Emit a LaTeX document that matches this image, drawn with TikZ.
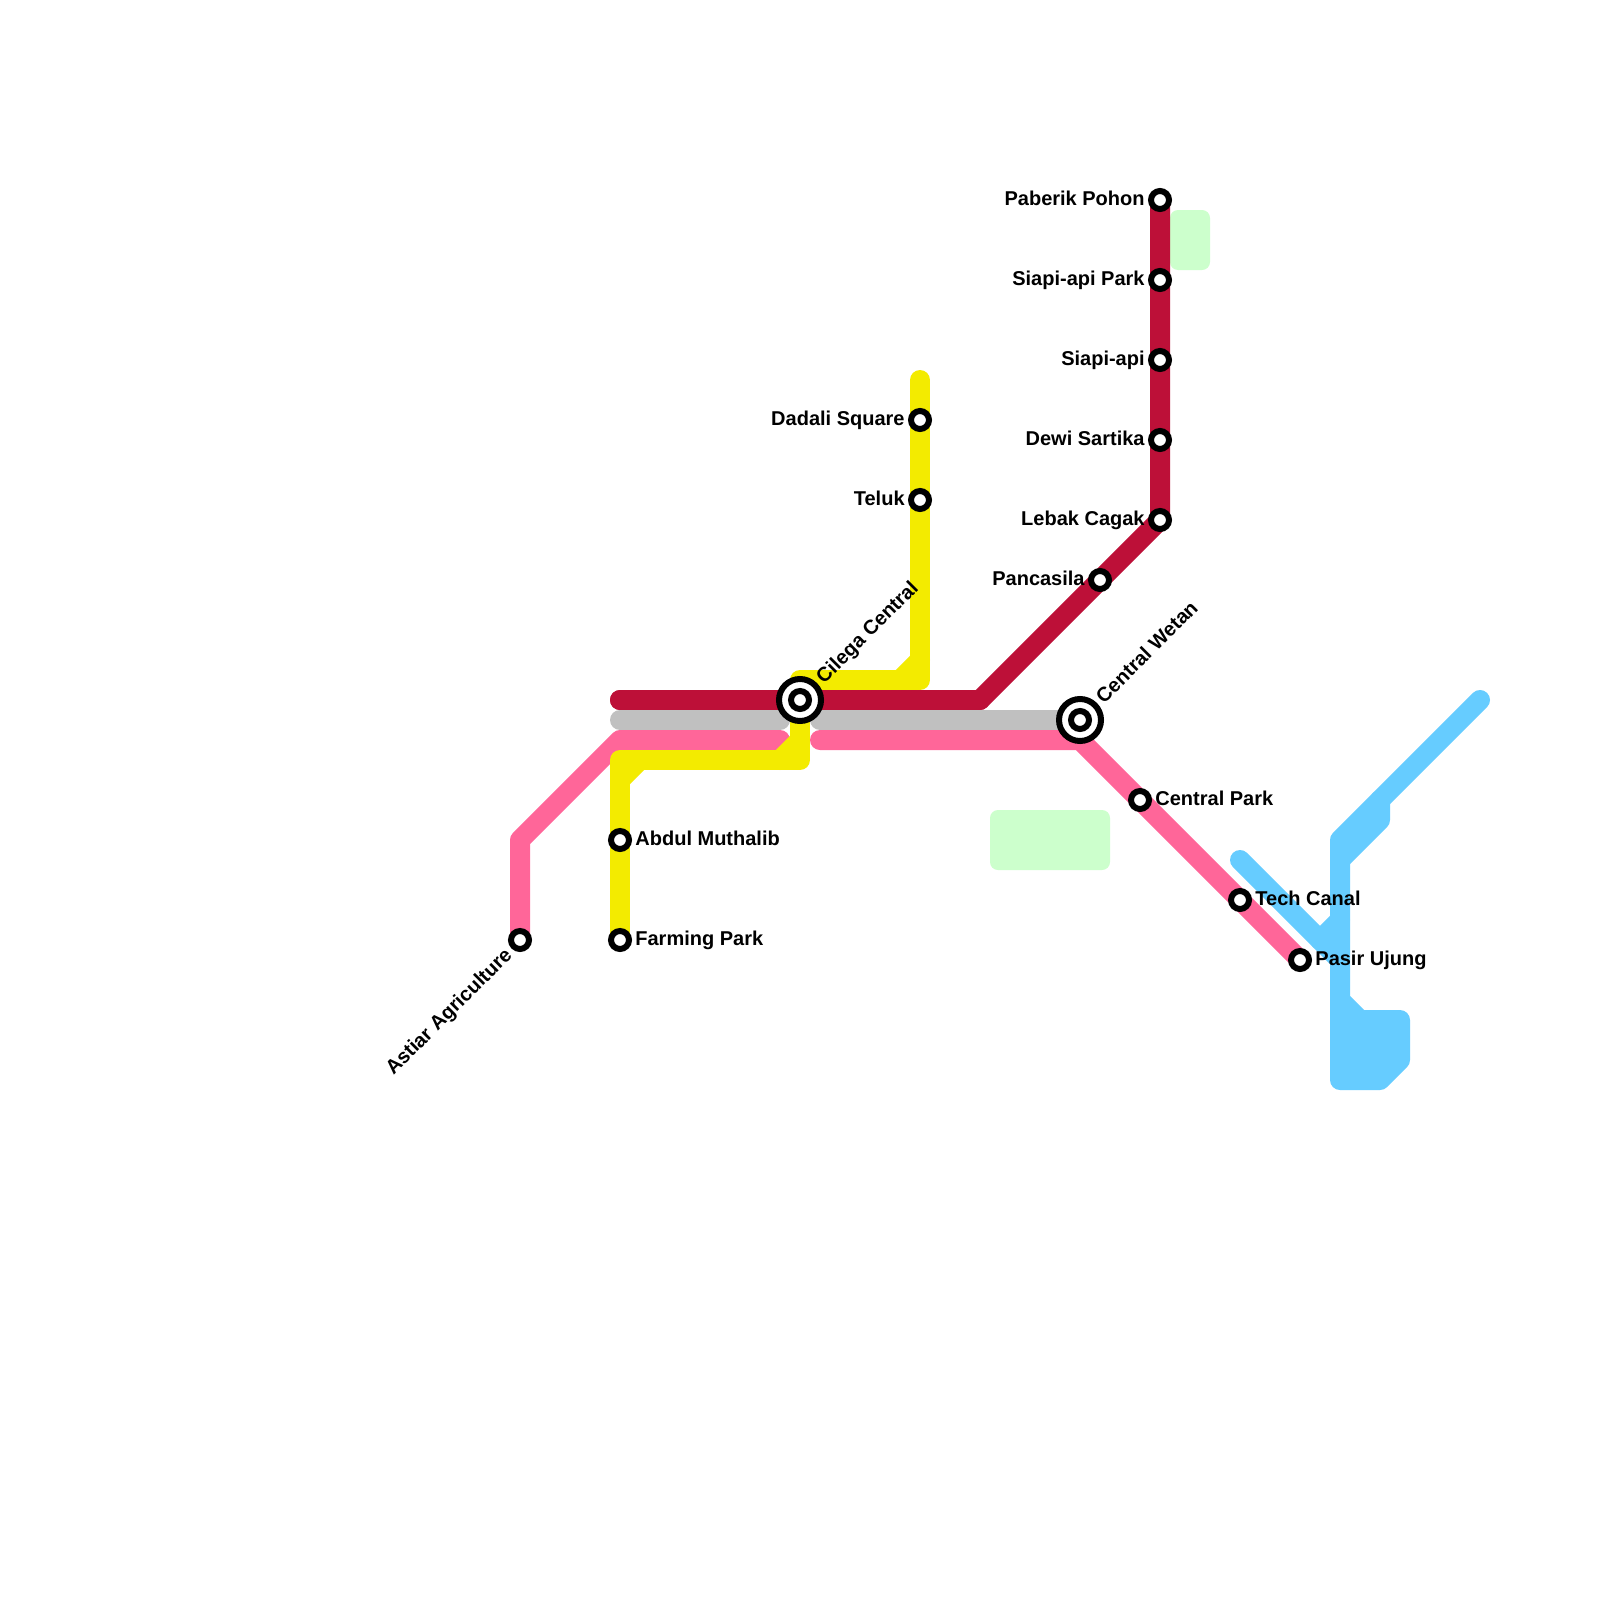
\documentclass[tikz,border=0pt]{standalone}
\usepackage{fontspec}
\setmainfont{Liberation Sans}
\usepackage{xcolor}
\definecolor{linered}{HTML}{BD1038}
\definecolor{linepink}{HTML}{FF6699}
\definecolor{lineyellow}{HTML}{F3EB00}
\definecolor{lineblue}{HTML}{66CCFF}
\definecolor{linegray}{HTML}{C0C0C0}
\definecolor{parkgreen}{HTML}{CCFFCC}
\usetikzlibrary{backgrounds}
\tikzset{
  route/.style={line width=10pt,line cap=round,line join=round},
  park/.style={fill=parkgreen,rounded corners=4pt},
  stationdot/.style={circle,draw=black,fill=white,line width=3pt,minimum size=9pt,inner sep=0pt},
  hubring/.style={circle,draw=black,fill=white,line width=3pt,minimum size=21pt,inner sep=0pt},
  namelabel/.style={font=\bfseries\fontsize{10}{12}\selectfont,inner sep=0pt},
  labelright/.style={namelabel,anchor=base west,xshift=7.5pt,yshift=-2.8pt},
  labelleft/.style={namelabel,anchor=base east,xshift=-7.5pt,yshift=-2.8pt},
  labelup/.style={namelabel,anchor=base west,rotate=45,shift={(13.9pt,-3pt)}},
  labeldown/.style={namelabel,anchor=base east,rotate=45,shift={(-8pt,-3.3pt)}},
}
\begin{document}
\begin{tikzpicture}[x=0.5pt,y=-0.5pt]
\useasboundingbox (0,0) rectangle (1600,1600);
% stations
\node[stationdot] (paberik) at (1160,200) {};
\node[stationdot] (siapipark) at (1160,280) {};
\node[stationdot] (siapi) at (1160,360) {};
\node[stationdot] (dewi) at (1160,440) {};
\node[stationdot] (lebak) at (1160,520) {};
\node[stationdot] (pancasila) at (1100,580) {};
\node[stationdot] (dadali) at (920,420) {};
\node[stationdot] (teluk) at (920,500) {};
\node[stationdot] (centralpark) at (1140,800) {};
\node[stationdot] (techcanal) at (1240,900) {};
\node[stationdot] (pasir) at (1300,960) {};
\node[stationdot] (abdul) at (620,840) {};
\node[stationdot] (farming) at (620,940) {};
\node[stationdot] (astiar) at (520,940) {};
\node[hubring] (cilegaring) at (800,700) {};
\node[stationdot] (cilega) at (800,700) {};
\node[hubring] (wetanring) at (1080,720) {};
\node[stationdot] (wetan) at (1080,720) {};
% bends
\coordinate (redstart) at (620,700);
\coordinate (redbend) at (980,700);
\coordinate (grayend) at (620,720);
\coordinate (graystop) at (780,720);
\coordinate (grayresume) at (820,720);
\coordinate (pinkstop) at (780,740);
\coordinate (pinkresume) at (820,740);
\coordinate (pinkwest) at (620,740);
\coordinate (pinkeast) at (1080,740);
\coordinate (pinkdrop) at (520,840);
\coordinate (yellowtop) at (920,380);
\coordinate (yellowne) at (920,680);
\coordinate (yellownw) at (800,680);
\coordinate (yellowse) at (800,760);
\coordinate (yellowsw) at (620,760);
\coordinate (blueend) at (1480,700);
\coordinate (bluenw) at (1340,840);
\coordinate (bluestub) at (1380,800);
\coordinate (bluestubb) at (1380,820);
\coordinate (bluestubc) at (1340,860);
\coordinate (bluebranch) at (1240,860);
\coordinate (bluefork) at (1320,940);
\coordinate (blueforkb) at (1340,920);
\coordinate (bluemeet) at (1340,960);
\coordinate (bluesw) at (1340,1080);
\coordinate (bluesoutha) at (1380,1080);
\coordinate (bluesouthb) at (1400,1060);
\coordinate (blueeast) at (1400,1020);
\coordinate (blueinner) at (1360,1020);
\coordinate (bluewaist) at (1340,1000);
\begin{pgfonlayer}{background}
\fill[white] (0,0) rectangle (1600,1600);
\fill[park] (990,810) rectangle (1110,870);
\fill[park] (1170,210) rectangle (1210,270);
% blue line
\draw[route,lineblue] (blueend) -- (bluenw) -- (bluesw) -- (bluesoutha) -- (bluesouthb) -- (blueeast) -- (blueinner) -- (bluewaist);
\fill[lineblue] (bluesw) -- (bluesoutha) -- (bluesouthb) -- (blueeast) -- (blueinner) -- (bluewaist) -- cycle;
\draw[route,lineblue] (bluestub) -- (bluestubb) -- (bluestubc);
\draw[route,lineblue] (bluebranch) -- (bluefork) -- (bluemeet);
\draw[route,lineblue] (bluefork) -- (blueforkb);
% red line
\draw[route,linered] (redstart) -- (redbend) -- (pancasila.center) -- (lebak.center) -- (dewi.center) -- (siapi.center) -- (siapipark.center) -- (paberik.center);
% pink line
\draw[route,linepink] (astiar.center) -- (pinkdrop) -- (pinkwest) -- (pinkstop);
\draw[route,linepink] (pinkresume) -- (pinkeast) -- (centralpark.center) -- (techcanal.center) -- (pasir.center);
% yellow line
\draw[route,lineyellow] (farming.center) -- (abdul.center) -- (yellowsw) -- (yellowse) -- (yellownw) -- (yellowne) -- (yellowtop);
\draw[route,lineyellow] (620,780) -- (640,760);
\draw[route,lineyellow] (780,760) -- (800,740);
\draw[route,lineyellow] (900,680) -- (920,660);
% gray line
\draw[route,linegray] (grayend) -- (graystop);
\draw[route,linegray] (grayresume) -- (wetan.center);
% red again over the yellow
\draw[route,linered] (redstart) -- (redbend);
\end{pgfonlayer}
% labels
\node[labelleft] (paberiklabel) at (paberik) {Paberik Pohon};
\node[labelleft] (siapiparklabel) at (siapipark) {Siapi-api Park};
\node[labelleft] (siapilabel) at (siapi) {Siapi-api};
\node[labelleft] (dewilabel) at (dewi) {Dewi Sartika};
\node[labelleft] (lebaklabel) at (lebak) {Lebak Cagak};
\node[labelleft] (pancasilalabel) at (pancasila) {Pancasila};
\node[labelleft] (dadalilabel) at (dadali) {Dadali Square};
\node[labelleft] (teluklabel) at (teluk) {Teluk};
\node[labelright] (centralparklabel) at (centralpark) {Central Park};
\node[labelright] (techcanallabel) at (techcanal) {Tech Canal};
\node[labelright] (pasirlabel) at (pasir) {Pasir Ujung};
\node[labelright] (abdullabel) at (abdul) {Abdul Muthalib};
\node[labelright] (farminglabel) at (farming) {Farming Park};
\node[labeldown] (astiarlabel) at (astiar) {Astiar Agriculture};
\node[labelup] (cilegalabel) at (cilega) {Cilega Central};
\node[labelup] (wetanlabel) at (wetan) {Central Wetan};
\end{tikzpicture}
\end{document}
